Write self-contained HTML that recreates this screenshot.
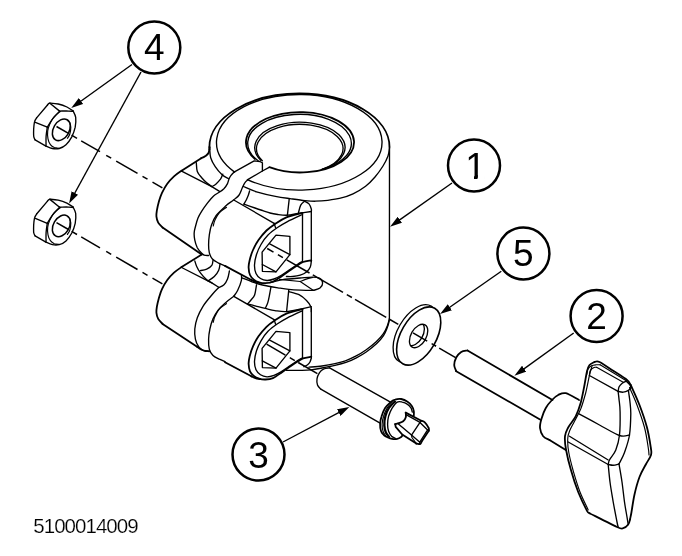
<!DOCTYPE html>
<html>
<head>
<meta charset="utf-8">
<title>5100014009</title>
<style>
html,body{margin:0;padding:0;background:#fff;}
body{width:682px;height:556px;overflow:hidden;font-family:"Liberation Sans",sans-serif;}
svg{display:block;position:absolute;left:0;top:0;will-change:transform;}
.l{fill:none;stroke:#000;stroke-width:1.35;stroke-linecap:round;stroke-linejoin:round;}
.b{fill:none;stroke:#000;stroke-width:1.8;stroke-linecap:round;stroke-linejoin:round;}
.t{fill:none;stroke:#000;stroke-width:1.15;stroke-linecap:round;stroke-linejoin:round;}
.w{fill:#fff;stroke:#000;stroke-width:1.5;stroke-linecap:round;stroke-linejoin:round;}
.c{fill:#fff;stroke:#000;stroke-width:2.5;}
.n{font-family:"Liberation Sans",sans-serif;font-size:37px;fill:#000;text-anchor:middle;}
.a{fill:none;stroke:#000;stroke-width:1.4;}
.cl{fill:none;stroke:#000;stroke-width:1.5;stroke-linecap:butt;}
</style>
</head>
<body>
<svg width="682" height="556" viewBox="0 0 682 556">
<defs>
<marker id="ah" viewBox="0 0 12 7.4" refX="8" refY="3.7" markerWidth="12" markerHeight="7.4" markerUnits="userSpaceOnUse" orient="auto"><path d="M0,0 L12,3.7 L0,7.4 z" fill="#000"/></marker>
<clipPath id="boreclip"><ellipse cx="300" cy="142.3" rx="54" ry="30.2"/></clipPath>
</defs>
<g id="centerlines">
<path class="cl" d="M56.5,126.5 L68.5,133.4"/>
<path class="cl" d="M71.6,135.2 L77,138.4"/>
<path class="cl" d="M81.2,140.8 L100,151.7"/>
<path class="cl" d="M106.2,155.3 L111.2,158.2"/>
<path class="cl" d="M116.2,161.1 L137.5,173.4"/>
<path class="cl" d="M142.5,176.3 L147.5,179.2"/>
<path class="cl" d="M152.5,182.1 L162.4,187.8"/>
<path class="cl" d="M267.2,248.5 L273.5,252.1"/>
<path class="cl" d="M277.9,254.7 L282.9,257.6"/>
<path class="cl" d="M286.7,259.8 L309.5,273"/>
<path class="cl" d="M312.8,274.9 L343,292.4"/>
<path class="cl" d="M346.8,294.6 L351.9,297.5"/>
<path class="cl" d="M355,299.3 L386.2,317.4"/>
<path class="cl" d="M389,319 L398.3,324.4"/>
<path class="cl" d="M413,332.9 L427.2,341.1"/>
<path class="cl" d="M431.6,343.7 L436,346.2"/>
<path class="cl" d="M439.2,348.1 L455.6,357.6"/>
<path class="cl" d="M56.5,222.6 L68.5,229.5"/>
<path class="cl" d="M71.6,231.3 L77,234.5"/>
<path class="cl" d="M81.2,236.9 L100,247.8"/>
<path class="cl" d="M106.2,251.4 L111.2,254.3"/>
<path class="cl" d="M116.2,257.2 L137.5,269.5"/>
<path class="cl" d="M142.5,272.4 L147.5,275.3"/>
<path class="cl" d="M152.5,278.2 L162.4,283.9"/>
<path class="cl" d="M266.6,344.2 L285.4,355.1"/>
<path class="cl" d="M289.8,357.7 L294.8,360.6"/>
<path class="cl" d="M298.2,362.5 L317.4,373.7"/>
</g>
<g id="clamp">
<path class="b" d="M209.4,147 C209.4,132.8 218.9,119.2 235.8,109.2 C252.7,99.1 275.6,93.5 299.4,93.5 C323.3,93.5 346.2,99.1 363.1,109.2 C380,119.2 389.5,132.8 389.5,147"/>
<path class="l" d="M389.5,147 L389.4,318.5"/>
<path class="b" d="M209.4,147 L209.4,149.5"/>
<path class="l" d="M209.7,149 C209.9,150.4 209.8,154.8 210.7,157.7 C211.6,160.6 213.3,163.8 215.2,166.6 C217.1,169.4 219.9,172.7 222.1,174.7 C224.3,176.7 227.3,177.9 228.4,178.5"/>
<path class="l" d="M243.3,186.5 C245.5,187.4 251.2,190.2 256.5,191.8 C261.9,193.4 269.8,195.2 275.4,196.3 C281,197.4 285.1,197.9 290,198.6 C294.9,199.3 300.8,200.2 305,200.6 C309.2,201 311.4,201.2 315.2,201.2 C319,201.1 323.6,200.8 327.8,200.3 C332,199.8 336.2,199.3 340.4,198.2 C344.6,197.1 348.8,195.8 353,193.8 C357.2,191.8 361.9,189 365.6,186.2 C369.3,183.4 372.1,180.4 375,177 C377.9,173.6 380.8,169.5 383,166 C385.2,162.5 386.9,159 388,156 C389.1,153 389.2,149.3 389.5,148"/>
<path class="l" d="M234.6,172.1 C221.4,162.6 215,150.5 216.8,138.3 C218.6,126.1 228.4,114.8 244.1,106.6 C259.9,98.5 280.5,94.2 301.7,94.5 C322.8,94.9 342.9,99.9 357.9,108.6 C372.8,117.2 381.4,128.9 382,141.1 C382.5,153.3 374.9,165.2 360.8,174.3 C346.6,183.3 327,189 305.9,189.9 C284.8,190.9 263.9,187.2 247.4,179.6"/>
<path class="b" d="M255,159 C247.6,152.7 244.6,145.1 246.6,137.7 C248.7,130.3 255.6,123.6 266,118.8 C276.5,114.1 289.7,111.7 303.1,112.1 C316.5,112.6 329.1,115.8 338.5,121.1 C347.9,126.5 353.4,133.6 354,141.1 C354.5,148.6 350,156 341.4,161.7 C332.7,167.5 320.6,171.2 307.3,172.2 C294,173.2 280.5,171.4 269.4,167.2"/>
<g clip-path="url(#boreclip)">
<path class="l" d="M258.1,160.8 C250.7,155.3 247.1,148.5 247.8,141.6 C248.5,134.8 253.5,128.3 262,123.3 C270.4,118.3 281.8,115.2 294,114.5 C306.2,113.7 318.4,115.4 328.6,119.3 C338.7,123.2 346.1,128.9 349.4,135.5 C352.7,142.1 351.7,149.2 346.6,155.4 C341.4,161.7 332.5,166.7 321.4,169.6"/>
<path class="l" d="M260.8,160.2 C254.9,154.3 253.2,147.4 256.3,141 C259.4,134.5 267,128.9 277.4,125.6 C287.7,122.2 300,121.3 311.6,123.1 C323.1,124.8 333,129 339,134.8 C344.9,140.7 346.6,147.6 343.5,154 C340.4,160.5 332.8,166.1 322.4,169.4"/>
<path class="l" d="M262.3,160.8 C256.6,155.2 255,148.5 258,142.3 C260.9,136.1 268.2,130.8 278.1,127.6 C288.1,124.3 299.9,123.5 310.9,125.1 C322,126.8 331.5,130.9 337.2,136.4 C342.9,142 344.5,148.7 341.5,154.9 C338.6,161.1 331.3,166.4 321.4,169.6"/>
</g>
<path class="l" d="M234,172.2 L254.2,160.9 L259.9,161.5 L262.4,162.8 L262.4,171"/>
<path class="l" d="M247.7,179.6 L262.4,171 L269.1,167.4"/>
<path class="b" d="M209.7,147.5 C209.5,148.4 209.2,151.6 208.5,153 C207.8,154.4 206.7,155.1 205.5,156 C204.3,156.9 202,157.9 201.2,158.2"/>
<path class="b" d="M201.2,158.2 L181.6,170.7"/>
<path class="b" d="M181.6,170.7 C180.3,171.6 176.4,174.2 174,176.4 C171.6,178.6 169.1,181.3 167.1,184 C165.1,186.7 163.4,189.9 162,192.8 C160.6,195.7 159.8,198.7 158.9,201.6 C158.1,204.5 157.3,207.9 156.9,210.4 C156.5,212.9 156.2,214.3 156.4,216.3 C156.6,218.3 157.2,220.7 158.2,222.6 C159.2,224.5 161.9,226.8 162.6,227.6"/>
<path class="b" d="M162.6,227.6 L201.7,254.6"/>
<path class="l" d="M181.6,171.2 L211.8,186.6 L219.5,191.3"/>
<path class="l" d="M196.3,162.6 C196.5,164.1 196.4,168.9 197.3,171.4 C198.2,173.9 200.1,175.8 201.7,177.7 C203.3,179.6 205,181.2 206.7,182.7 C208.4,184.2 211,185.9 211.8,186.6"/>
<path class="l" d="M222.8,174.1 C222.4,174.9 221.7,177.5 220.5,179.2 C219.3,180.8 217.2,183 215.8,184.2 C214.3,185.5 212.5,186.2 211.8,186.6"/>
<path class="l" d="M234,172.2 C233.5,172.7 231.8,174.3 231,175.4 C230.2,176.5 229.6,177.6 229,179 C228.4,180.4 228.3,182 227.5,183.6 C226.7,185.2 225.3,187.2 223.9,188.7 C222.5,190.1 221,191.1 219.2,192.3 C217.5,193.5 215.6,194.1 213.6,195.9 C211.6,197.7 209.4,200.5 207.4,203.1 C205.4,205.7 203.2,208.8 201.6,211.3 C200,213.8 199,215.6 198,218 C197,220.4 196.2,223.6 195.6,226 C195,228.4 194.3,230.2 194.2,232.6 C194,234.9 194.3,237.6 194.8,240.1 C195.3,242.6 196.2,245.5 197.3,247.7 C198.5,249.9 200.5,252.1 201.7,253.3 C202.8,254.6 203,254.8 204.2,255.2 C205.3,255.6 207.9,255.4 208.6,255.5"/>
<path class="l" d="M247.9,179.8 C247.4,180.3 245.7,181.5 244.8,182.9 C243.8,184.3 243.1,186 242.2,188 C241.3,190 240.5,193 239.1,195 C237.7,197 235.6,198.2 233.5,200 C231.4,201.8 229.1,202.9 226.2,205.5 C223.4,208.1 218.7,212.2 216.2,215.5 C213.8,218.8 212.7,221.7 211.5,225 C210.3,228.3 209.8,231.8 209.3,235.1 C208.8,238.4 208.6,242.2 208.6,245.1 C208.6,248 208.7,250.4 209.3,252.7 C209.9,255 210.9,257.3 212.4,259 C213.9,260.7 216,261.7 218.1,262.8 C220.2,263.9 223.8,265.4 225,265.9"/>
<path class="t" d="M226.5,207.3 C225.2,208.3 220.8,211.1 218.9,213.3 C217,215.5 215.9,218.2 214.9,220.3 C213.9,222.4 213.5,225.1 213.2,226"/>
<path class="t" d="M226.5,303.6 C225.2,304.6 220.8,307.4 218.9,309.6 C217,311.8 215.9,314.5 214.9,316.6 C213.9,318.7 213.5,321.4 213.2,322.3"/>
<path class="b" d="M302.5,212.8 C299.8,213.6 291,215.4 286.4,217.3 C281.8,219.2 278.3,221.8 275,224 C271.7,226.2 269.2,227.8 266.5,230.5 C263.8,233.2 260.8,236.8 258.5,240 C256.2,243.2 254.5,246.7 253,250 C251.5,253.3 250.4,257.1 249.7,260 C249,262.9 248.5,265 248.6,267.5 C248.7,270 249.1,273 250,275 C250.9,277 252.3,278.4 253.8,279.6 C255.3,280.8 257.1,281.7 259,282.3 C260.9,282.9 263.2,283.3 265.5,283.2 C267.8,283.1 270.2,283 272.9,281.8 C275.6,280.6 278.8,278.2 281.7,276.2 C284.6,274.2 287.8,271.9 290.5,270 C293.2,268.1 295.9,266.3 298,265 C300.1,263.7 300.9,262.8 303.1,262 C305.3,261.2 309.9,260.7 311.3,260.4"/>
<path class="l" d="M302.5,214.5 C299.9,215.7 291.2,219.6 287,221.8 C282.8,224 280.7,225.3 277.5,227.5 C274.3,229.7 270.8,232.2 268,235 C265.2,237.8 262.9,241.2 261,244.5 C259.1,247.8 257.6,251.1 256.5,254.5 C255.4,257.9 254.6,261.8 254.5,265 C254.4,268.2 255,271.2 256,273.5 C257,275.8 258.7,277.3 260.5,278.5 C262.3,279.7 264.8,280.4 267,280.5 C269.2,280.6 271.7,279.8 274,279 C276.3,278.2 278.3,277.1 281,275.5 C283.7,273.9 287.2,271.4 290,269.5 C292.8,267.6 295.9,265.3 298,264 C300.1,262.7 301.8,261.9 302.5,261.5"/>
<path class="l" d="M276,235.1 L289.9,236.3 L289.9,254.6 L276,271.8 L262.4,271.3 L262.1,252.1z"/>
<path class="l" d="M269.7,243.9 L289.9,254.6"/>
<path class="l" d="M262.3,264.5 L276,271.8"/>
<path class="l" d="M274.1,223.3 L275.6,227.9"/>
<path class="l" d="M233.8,200 L274.1,223.3"/>
<path class="b" d="M225,265.9 L251.4,280"/>
<path class="b" d="M251.4,280 C252.1,280.3 254.1,281.3 255.5,281.8 C256.9,282.3 259.2,282.6 260,282.8"/>
<path class="l" d="M302.5,213 L302.5,262"/>
<path class="l" d="M311.3,211.5 L311.3,261.4"/>
<path class="l" d="M249.6,190.9 C249.4,191.6 248.8,193.9 248.3,195.3 C247.8,196.7 247.2,198 246.5,199.5 C245.8,201 244.3,203.3 243.9,204.1"/>
<path class="l" d="M243.9,204.1 C245.8,204.8 251.8,206.9 255,208 C258.1,209.1 260.3,209.8 262.8,210.6 C265.3,211.4 267.5,212.3 270,213 C272.5,213.7 275,214.1 277.9,214.5 C280.8,214.9 284.1,215.4 287.5,215.2 C290.9,215 294.3,214 298.3,213.4 C302.3,212.8 309.1,211.8 311.3,211.5"/>
<path class="l" d="M289.2,199.2 L287.4,215.2"/>
<path class="l" d="M304.6,201.2 C303.9,201.9 301.7,203.4 300.6,205.4 C299.6,207.4 298.7,212.1 298.3,213.4"/>
<path class="l" d="M304.6,201.2 C305.3,201.6 307.9,202.6 309,203.9 C310.1,205.2 310.9,207.7 311.3,209 C311.7,210.3 311.3,211.1 311.3,211.5"/>
<path class="l" d="M311.3,261.4 C311.1,262.3 311.1,265.2 310.3,267 C309.5,268.8 308.2,270.7 306.5,272.1 C304.8,273.5 302.5,274.5 300.2,275.2 C297.9,275.9 295,276.3 292.7,276.5 C290.4,276.7 287.4,276.5 286.4,276.5"/>
<path class="l" d="M270,282.5 C272.1,282 277.6,280.4 282.6,279.6 C287.6,278.9 295,278.4 300,278 C305,277.6 309.5,277 312.8,277.1 C316.1,277.2 318.1,277.4 319.7,278.4 C321.3,279.4 322.6,281.4 322.6,283 C322.7,284.6 321.5,286.8 320,288 C318.5,289.2 314.6,290 313.5,290.4"/>
<path class="l" d="M242,277.9 C243.7,278.5 248.6,280.6 252,281.8 C255.4,283 258.1,284 262.4,285 C266.7,286 273.5,287.1 277.9,287.8 C282.3,288.5 285.1,289 288.9,289.4 C292.7,289.8 296.5,290 300.6,290.2 C304.7,290.4 311.4,290.4 313.5,290.4"/>
<path class="t" d="M300.2,281.5 C301.5,281 305.7,279.3 307.8,278.6 C309.9,277.9 312,277.7 312.8,277.5"/>
<path class="t" d="M300.2,281.5 L313.5,290.4"/>
<path class="t" d="M279.4,279.4 L300.2,281.5"/>
<path class="b" d="M201.7,254.6 L181.6,267"/>
<path class="b" d="M181.6,267 C180.3,267.9 176.4,270.5 174,272.7 C171.6,274.9 169.1,277.6 167.1,280.3 C165.1,283 163.4,286.2 162,289.1 C160.6,292 159.8,295 158.9,297.9 C158.1,300.8 157.3,304.2 156.9,306.7 C156.5,309.1 156.2,310.6 156.4,312.6 C156.6,314.6 157.2,317 158.2,318.9 C159.2,320.8 161.9,323.1 162.6,323.9"/>
<path class="b" d="M162.6,323.9 L196.7,346.6"/>
<path class="b" d="M196.7,346.6 C197.5,347.1 200.2,349.1 201.7,349.8 C203.2,350.5 204.2,350.8 205.5,351 C206.8,351.2 208.7,351.2 209.3,351.3"/>
<path class="l" d="M181.6,267.5 L211.8,282.9 L218.7,287.3"/>
<path class="l" d="M194.8,260.9 C195.1,261.8 195.8,264.5 196.7,266.5 C197.6,268.5 198.7,270.6 200.4,272.8 C202.1,275 204.8,278.1 206.7,279.8 C208.6,281.5 211,282.4 211.8,282.9"/>
<path class="l" d="M213,260.3 C212.8,261.1 212.9,263.8 211.8,265.3 C210.8,266.8 208.6,268.2 206.7,269.1 C204.8,270 201.3,270.4 200.2,270.6"/>
<path class="l" d="M220,264 C219.8,265.1 219.6,268.2 218.7,270.3 C217.8,272.4 216.1,274.8 214.3,276.6 C212.5,278.4 209.1,280.2 208,280.9"/>
<path class="l" d="M218.7,287.6 C217.5,288.8 214.4,291.9 211.8,295 C209.2,298.1 205.4,302.5 203,306.3 C200.6,310.1 198.7,313.9 197.3,317.7 C195.9,321.5 195.1,325.4 194.8,329 C194.5,332.6 194.8,336.2 195.4,339.1 C196,342 197.3,344.7 198.6,346.6 C199.9,348.5 201.2,349.6 203,350.4 C204.8,351.2 208.2,351.1 209.3,351.3"/>
<path class="l" d="M233.8,296.3 C232.3,297.4 227.6,300.9 225,303.2 C222.4,305.5 220.1,307.5 218.1,310.1 C216.1,312.7 214.4,315.8 213,318.9 C211.6,322 210.6,325.6 209.9,329 C209.2,332.4 208.7,335.8 208.6,339.1 C208.5,342.5 208.6,346.4 209.3,349.1 C210,351.8 211.3,353.7 213,355.4 C214.7,357.1 217.3,358.1 219.3,359.2 C221.3,360.2 224.1,361.3 225,361.7"/>
<path class="b" d="M302.5,309.1 C299.8,309.9 291,311.7 286.4,313.6 C281.8,315.5 278.3,318.1 275,320.3 C271.7,322.5 269.2,324.1 266.5,326.8 C263.8,329.5 260.8,333.1 258.5,336.3 C256.2,339.6 254.5,343 253,346.3 C251.5,349.6 250.4,353.4 249.7,356.3 C249,359.2 248.5,361.3 248.6,363.8 C248.7,366.3 249.1,369.3 250,371.3 C250.9,373.3 252.3,374.7 253.8,375.9 C255.3,377.1 257.1,378 259,378.6 C260.9,379.2 263.2,379.6 265.5,379.5 C267.8,379.4 270.2,379.3 272.9,378.1 C275.6,376.9 278.8,374.5 281.7,372.5 C284.6,370.5 287.8,368.2 290.5,366.3 C293.2,364.4 295.9,362.6 298,361.3 C300.1,360 300.9,359.1 303.1,358.3 C305.3,357.5 309.9,357 311.3,356.7"/>
<path class="l" d="M302.5,310.8 C299.9,312 291.2,315.9 287,318.1 C282.8,320.3 280.7,321.6 277.5,323.8 C274.3,326 270.8,328.5 268,331.3 C265.2,334.1 262.9,337.6 261,340.8 C259.1,344.1 257.6,347.4 256.5,350.8 C255.4,354.2 254.6,358.1 254.5,361.3 C254.4,364.5 255,367.6 256,369.8 C257,372.1 258.7,373.6 260.5,374.8 C262.3,376 264.8,376.7 267,376.8 C269.2,376.9 271.7,376.1 274,375.3 C276.3,374.5 278.3,373.4 281,371.8 C283.7,370.2 287.2,367.7 290,365.8 C292.8,363.9 295.9,361.6 298,360.3 C300.1,359 301.8,358.2 302.5,357.8"/>
<path class="l" d="M276,331.4 L289.9,332.6 L289.9,350.9 L276,368.1 L262.4,367.6 L262.1,348.4z"/>
<path class="l" d="M269.7,340.2 L289.9,350.9"/>
<path class="l" d="M262.3,360.8 L276,368.1"/>
<path class="l" d="M274.1,319.6 L275.6,324.2"/>
<path class="l" d="M233.8,296.3 L274.1,319.6"/>
<path class="b" d="M225,362.2 L251.4,376.3"/>
<path class="b" d="M251.4,376.3 C252.1,376.6 254.1,377.6 255.5,378.1 C256.9,378.6 259.2,378.9 260,379.1"/>
<path class="l" d="M302.5,309.3 L302.5,358.3"/>
<path class="l" d="M311.3,307.8 L311.3,357.7"/>
<path class="l" d="M247.7,303.8 C248.9,304.1 252.1,305 255,305.8 C257.9,306.6 262,307.6 265.3,308.4 C268.6,309.2 271.5,310.1 275,310.6 C278.5,311.1 282,311.9 286.4,311.6 C290.8,311.3 297.4,309.6 301.5,308.8 C305.6,308 309.7,307.1 311.3,306.7"/>
<path class="l" d="M256.5,284.8 C256.2,286.5 255.5,292.5 254.6,295 C253.7,297.5 252.2,298.5 251,300 C249.8,301.5 248.2,303.2 247.7,303.8"/>
<path class="l" d="M271,286.7 C270.8,288.1 270,292.4 269.5,295 C269,297.6 268.5,300.4 267.8,302.6 C267.1,304.8 265.7,307.4 265.3,308.4"/>
<path class="l" d="M288.8,289.6 L286.6,311.5"/>
<path class="l" d="M241.4,274.7 C241.4,275.6 242,277.8 241.4,280.4 C240.8,283 238.9,287.9 237.6,290.5 C236.3,293.1 234.4,295.3 233.8,296.3"/>
<path class="l" d="M229.4,271 C229.1,272.4 228.4,276.8 227.5,279.1 C226.6,281.4 225.5,283.4 224,284.8 C222.5,286.2 219.6,287.1 218.7,287.6"/>
<path class="l" d="M288.9,291.6 C290.6,292.1 296.1,293.2 299,294.7 C301.9,296.2 304.5,298.4 306.5,300.4 C308.5,302.4 310.1,304.8 310.9,306.7 C311.7,308.6 311.2,310.9 311.3,311.7"/>
<path class="l" d="M311.4,357.9 C311.2,358.5 310.7,360.5 310.1,361.7 C309.5,362.9 308.6,364 307.6,364.8 C306.6,365.6 304.5,366.4 303.9,366.7"/>
<path class="l" d="M389.4,318.5 C389.1,319.6 388.5,322.9 387.5,325.4 C386.5,327.9 385.3,330.9 383.4,333.6 C381.5,336.3 379.1,339.1 376.2,341.8 C373.3,344.5 369.3,347.6 365.9,350 C362.5,352.4 359.1,354.4 355.7,356.2 C352.3,358 348.8,359.6 345.4,360.8 C341.9,362 338.9,362.7 335,363.6 C331.1,364.5 326.3,365.4 322,366 C317.7,366.6 311.2,367 309,367.2"/>
<path class="l" d="M389.3,320.5 C389,321.7 388.3,325 387.3,327.5 C386.3,330 385.3,332.9 383.5,335.6 C381.7,338.3 379.5,340.9 376.7,343.6 C373.9,346.3 370,349.3 366.6,351.7 C363.2,354.1 359.8,356 356.4,357.8 C353,359.6 349.6,361.1 346,362.4 C342.4,363.6 339,364.4 335,365.3 C331,366.2 326,367.2 322,368 C318,368.8 314.7,369.5 311,369.9 C307.3,370.3 304.1,370.3 300,370.4 C295.9,370.5 288.7,370.4 286.4,370.4"/>
</g>
<g id="nuts">
<g>
<path class="l" d="M49.9,103.1 C49.7,103.2 49.1,103.3 48.7,103.6 C48.3,104 47.7,104.8 47.5,105"/>
<path class="l" d="M47.5,105 L36.6,117.9"/>
<path class="l" d="M36.6,117.9 C36.3,118.5 35.1,119.9 34.7,121.3 C34.2,122.7 34.1,124.4 33.9,126.2 C33.7,128 33.6,130.2 33.6,132 C33.6,133.8 33.5,135.6 33.8,136.9 C34,138.2 34.8,139.3 35.1,139.8"/>
<path class="l" d="M35.1,139.8 L45.5,145.8"/>
<path class="l" d="M45.5,145.8 C46.7,146.3 50.1,148.1 52.4,148.5 C54.6,149 56.9,149.1 59.2,148.5 C61.4,147.9 63.9,146.8 66,144.8 C68.1,142.9 70.2,139.8 71.8,136.9 C73.3,133.9 74.5,130.4 75.2,127.2 C75.8,123.9 76,120.2 75.7,117.4 C75.3,114.7 73.4,111.9 73,110.8"/>
<path class="l" d="M73,110.8 C72,110.2 69.4,108.2 66.9,107 C64.5,105.9 61,104.7 58.2,104 C55.3,103.4 51.3,103.2 49.9,103.1"/>
<path class="l" d="M49.9,103.3 L59.6,111.1"/>
<path class="l" d="M59.6,111.1 C60.8,111.1 64.2,110.8 66.4,110.8 C68.7,110.9 72.1,111.3 73.2,111.4"/>
<path class="l" d="M59.6,111.1 C58.5,112.4 54.9,115.9 52.8,118.6 C50.8,121.3 48.2,125.7 47.3,127.2"/>
<path class="l" d="M34.7,122.1 L47.3,127.2"/>
<path class="l" d="M47.3,127.2 C47.1,128.7 46.3,133.3 46.1,136.4 C45.9,139.5 46.1,144.2 46,145.8"/>
<path class="t" d="M60.3,111.6 C59.3,112.4 56.1,114.4 54.3,116.5 C52.5,118.6 50.8,121.8 49.7,124.2 C48.6,126.7 48,128.6 47.7,131 C47.4,133.5 47.5,136.5 48,138.8 C48.4,141.1 49.4,143.2 50.4,144.6 C51.5,146.1 52.8,146.9 54.3,147.6 C55.8,148.2 58.3,148.2 59.2,148.3"/>
<ellipse class="l" style="stroke-width:1.5" cx="61.3" cy="129.8" rx="7.9" ry="11.6" transform="rotate(30 61.3 129.8)"/>
<path class="t" d="M69.7,122.3 C69.8,123.1 70.8,125.2 70.8,127.2 C70.8,129.1 70.4,132.1 69.8,134 C69.3,135.8 67.8,137.6 67.4,138.3"/>
</g>
<g>
<path class="l" d="M49.9,199.2 C49.7,199.3 49.1,199.4 48.7,199.7 C48.3,200.1 47.7,200.9 47.5,201.1"/>
<path class="l" d="M47.5,201.1 L36.6,214"/>
<path class="l" d="M36.6,214 C36.3,214.6 35.1,216 34.7,217.4 C34.2,218.8 34.1,220.5 33.9,222.3 C33.7,224.1 33.6,226.3 33.6,228.1 C33.6,229.9 33.5,231.7 33.8,233 C34,234.3 34.8,235.4 35.1,235.9"/>
<path class="l" d="M35.1,235.9 L45.5,241.9"/>
<path class="l" d="M45.5,241.9 C46.7,242.4 50.1,244.2 52.4,244.6 C54.6,245.1 56.9,245.2 59.2,244.6 C61.4,244 63.9,242.9 66,240.9 C68.1,239 70.2,235.9 71.8,233 C73.3,230 74.5,226.5 75.2,223.3 C75.8,220 76,216.3 75.7,213.5 C75.3,210.8 73.4,208 73,206.9"/>
<path class="l" d="M73,206.9 C72,206.3 69.4,204.3 66.9,203.1 C64.5,202 61,200.8 58.2,200.1 C55.3,199.5 51.3,199.3 49.9,199.2"/>
<path class="l" d="M49.9,199.4 L59.6,207.2"/>
<path class="l" d="M59.6,207.2 C60.8,207.2 64.2,206.9 66.4,206.9 C68.7,207 72.1,207.4 73.2,207.5"/>
<path class="l" d="M59.6,207.2 C58.5,208.5 54.9,212 52.8,214.7 C50.8,217.4 48.2,221.8 47.3,223.3"/>
<path class="l" d="M34.7,218.2 L47.3,223.3"/>
<path class="l" d="M47.3,223.3 C47.1,224.8 46.3,229.4 46.1,232.5 C45.9,235.6 46.1,240.3 46,241.9"/>
<path class="t" d="M60.3,207.7 C59.3,208.5 56.1,210.5 54.3,212.6 C52.5,214.7 50.8,217.9 49.7,220.3 C48.6,222.8 48,224.7 47.7,227.1 C47.4,229.6 47.5,232.6 48,234.9 C48.4,237.2 49.4,239.3 50.4,240.7 C51.5,242.2 52.8,243 54.3,243.7 C55.8,244.3 58.3,244.3 59.2,244.4"/>
<ellipse class="l" style="stroke-width:1.5" cx="61.3" cy="225.9" rx="7.9" ry="11.6" transform="rotate(30 61.3 225.9)"/>
<path class="t" d="M69.7,218.4 C69.8,219.2 70.8,221.3 70.8,223.3 C70.8,225.2 70.4,228.2 69.8,230.1 C69.3,231.9 67.8,233.7 67.4,234.4"/>
</g>
</g>
<g id="washer">
<ellipse class="l" style="fill:#fff" cx="415.2" cy="333.8" rx="17.6" ry="32" transform="rotate(30 415.2 333.8)"/>
<ellipse class="w" style="stroke-width:1.6" cx="418.7" cy="336" rx="17.6" ry="32" transform="rotate(30 418.7 336)"/>
<ellipse class="l" cx="418.6" cy="336" rx="7.6" ry="12.8" transform="rotate(30 418.6 336)"/>
<clipPath id="wh"><ellipse cx="418.6" cy="336" rx="7.6" ry="12.8" transform="rotate(30 418.6 336)"/></clipPath>
<g clip-path="url(#wh)"><ellipse class="l" cx="415.2" cy="334" rx="7.6" ry="12.8" transform="rotate(30 415.2 334)"/></g>
<path class="cl" d="M413,332.9 L427.2,341.1"/>
<path class="cl" d="M431.6,343.7 L436,346.2"/>
</g>
<g id="bolt3">
<path class="l" d="M329.6,367.9 L390.5,402.2"/>
<path class="l" d="M320.8,389.1 L380.1,423.1"/>
<path class="l" d="M329.6,367.9 C328.7,368.1 325.6,368.1 323.9,368.9 C322.2,369.7 320.6,370.9 319.5,372.6 C318.4,374.3 317.3,376.8 317,378.9 C316.7,381 316.9,383.3 317.5,385 C318.1,386.7 320.2,388.4 320.8,389.1"/>
<path class="b" d="M413.8,415.7 C413.8,414.9 414.1,412.7 413.8,411.1 C413.5,409.5 412.9,407.7 411.8,406.1 C410.7,404.5 409,402.7 407.2,401.6 C405.5,400.4 403.2,399.4 401.2,399 C399.2,398.7 396.9,399 395.2,399.6 C393.4,400.1 392.3,400.6 390.6,402.1 C389,403.5 386.6,405.8 385.1,408.1 C383.6,410.5 382.4,413.5 381.6,416.2 C380.7,418.9 380.1,421.7 380.1,424.2 C380,426.7 380.4,429.4 381.1,431.3 C381.7,433.1 383.1,434.3 384.1,435.3 C385.1,436.3 385.8,436.4 387.1,437 C388.4,437.6 390.5,438.6 392.1,438.9 C393.8,439.2 395.7,439.2 397.2,438.9 C398.7,438.6 400.3,437.6 401.2,437 C402.1,436.4 402.2,435.6 402.4,435.3"/>
<path class="t" d="M392.1,402.1 C391.3,403.1 388.5,405.8 387.1,408.1 C385.7,410.5 384.4,413.5 383.6,416.2 C382.7,418.9 382.2,421.7 382.1,424.2 C382,426.7 382.5,429.4 383.1,431.3 C383.7,433.2 385.2,434.8 385.6,435.5"/>
<path class="b" d="M395.2,401.6 C394.2,402.7 390.7,405.7 389.1,408.1 C387.5,410.5 386.4,413.3 385.6,416.2 C384.8,419 384.5,422.5 384.6,425.2 C384.7,427.9 385.3,430.4 386.1,432.3 C386.9,434.2 388.6,435.8 389.1,436.5"/>
<path class="l" d="M394.4,401.3 C393.4,402.4 390,405.6 388.4,408.1 C386.8,410.6 385.6,413.3 384.9,416.2 C384.1,419 383.8,422.5 383.9,425.2 C384,427.9 384.6,430.4 385.3,432.3 C386,434.1 387.6,435.6 388.1,436.3"/>
<path class="l" d="M412.3,412.1 C412.1,411.5 411.9,409.5 411.1,408.1 C410.2,406.8 408.7,405.1 407.2,404.1 C405.8,403.1 403.9,402.4 402.2,402.1 C400.5,401.7 398.9,401.1 397.2,402.1 C395.5,403.1 393.6,405.8 392.1,408.1 C390.7,410.5 389.4,413.5 388.6,416.2 C387.9,418.9 387.6,421.7 387.6,424.2 C387.6,426.7 387.9,429.3 388.6,431.3 C389.3,433.3 390.5,435.1 391.6,436.3 C392.8,437.5 394.7,438 395.4,438.3"/>
<path class="b" d="M405.7,412.6 C405.8,413.4 406.3,415.7 405.8,417.2 C405.4,418.6 404.5,420.2 403.2,421.2 C402,422.2 399.7,422.7 398.4,423.2 C397,423.7 395.7,424.1 395.2,424.2"/>
<path class="b" d="M405.7,412.6 L421.3,420.7"/>
<path class="b" d="M421.3,420.7 C421.9,421 423.6,421.2 424.8,422.4 C426,423.6 427.9,426.4 428.6,427.8 C429.3,429.1 428.8,430.3 428.8,430.8"/>
<path class="b" d="M428.8,430.8 L421.5,441.7"/>
<path class="b" d="M421.5,441.7 C421.4,442.1 421,443.4 420.5,443.8 C420.1,444.2 419.6,444.2 418.9,444.2 C418.2,444.1 416.7,443.7 416.3,443.6"/>
<path class="b" d="M416.3,443.6 L402.2,434.5 L395.7,426.9 L395.2,424.2"/>
<path class="l" d="M420,422.4 L427.6,429.9 L419.8,442.2 L411.5,435.1z"/>
<path class="l" d="M406.5,414.8 L420,422.4"/>
<path class="l" d="M398.4,424 L411.5,435.1"/>
<path class="t" d="M427.6,429.9 L428.7,429.3"/>
<path class="t" d="M419.8,442.2 L419.5,444"/>
<path class="t" d="M411.5,435.1 L411.9,437.5 L416.3,443.6"/>
<path class="t" d="M421.3,420.7 L420,422.4"/>
</g>
<g id="tbolt">
<path class="b" d="M467.5,350.5 L552.5,400"/>
<path class="b" d="M456.2,371.2 L540,419.5"/>
<path class="b" d="M467.5,350.5 C466.5,350.8 463.1,350.8 461.2,352 C459.4,353.2 457.4,355.3 456.2,357.5 C455.1,359.7 454.2,362.7 454.2,365 C454.2,367.3 455.9,370.2 456.2,371.2"/>
<path class="b" d="M579,400 C576.8,398.9 569.2,394.1 565.8,393.2 C562.3,392.4 560.5,393.9 558.2,395 C556,396.1 554.1,397.8 552,400 C549.9,402.2 547.5,404.9 545.8,408 C544,411.1 542.5,415.4 541.5,418.8 C540.5,422.1 539.7,425.1 540,428 C540.3,430.9 541.7,434.2 543.2,436.2 C544.8,438.2 548.5,439.4 549.5,440"/>
<path class="b" d="M549.5,440 L565.8,450"/>
<path class="b" d="M594.5,362 C593.7,362.5 590.8,363.5 589.5,365 C588.2,366.5 587.8,367.9 587,371.2 C586.2,374.6 585.5,379.8 584.5,385 C583.5,390.2 582.2,397.3 580.8,402.5 C579.3,407.7 577.8,412.1 575.8,416.2 C573.7,420.4 570,424.2 568.2,427.5 C566.5,430.8 565.4,432.6 565,436.2 C564.6,439.9 565,444 566,449.5 C567,455 568.7,462.4 570.8,469.5 C572.8,476.6 575.5,485.1 578.2,492 C581,498.9 585.1,507.2 587,510.8 C588.9,514.3 589.1,512.8 589.5,513.2"/>
<path class="b" d="M589.5,513.2 C594.1,515.5 611.4,524.5 617,527 C622.6,529.5 621.4,528.7 623.2,528.2 C625.1,527.8 627.1,526 628.2,524.5 C629.4,523 629.7,520.3 630,519.5"/>
<path class="b" d="M630.8,385 C632.2,388.3 636.8,397.9 639.5,405 C642.2,412.1 645.1,420.4 647,427.5 C648.9,434.6 650.1,442.9 650.8,447.5 C651.4,452.1 651.8,452.2 651,455 C650.2,457.8 647.7,460.8 645.8,464.5 C643.8,468.2 641.4,472 639.5,477 C637.6,482 635.8,488.7 634.5,494.5 C633.2,500.3 632.2,507.8 631.5,512 C630.8,516.2 630.2,518.2 630,519.5"/>
<path class="b" d="M594.5,362 C595.3,362 596.4,360.5 599.5,362 C602.6,363.5 608.7,367.8 613.2,370.8 C617.8,373.8 624.1,377.6 627,380 C629.9,382.4 630.1,384.2 630.8,385"/>
<path class="t" d="M592,366.2 C591.6,367.7 590.5,370.6 589.5,375 C588.5,379.4 587.2,386.9 585.8,392.5 C584.3,398.1 582.6,404 580.8,408.8 C578.9,413.5 576.3,417.7 574.5,421.2 C572.7,424.8 571.1,427.2 570,430 C568.9,432.8 568,434.2 567.8,438 C567.5,441.8 567.8,447 568.8,452.5 C569.7,458 571.4,464.2 573.2,470.8 C575.1,477.3 577.5,485.5 580,492 C582.5,498.5 586.9,507 588.2,510"/>
<path class="t" d="M629.5,387.5 C630.8,390.4 634.5,398.3 637,405 C639.5,411.7 642.6,420.4 644.5,427.5 C646.4,434.6 647.5,442.9 648.2,447.5 C649,452.1 648.9,453.8 649,455"/>
<path class="t" d="M586.8,374.5 C587,373.6 587.1,370.8 587.8,369.4 C588.6,367.9 590.1,366.5 591.4,365.8 C592.8,365 594.6,364.9 596,364.8 C597.5,364.6 599.5,364.8 600.1,364.8"/>
<path class="t" d="M600.1,364.8 L626.3,380.7"/>
<path class="t" d="M589.4,375.5 C589.5,374.7 589.6,371.7 590.4,370.4 C591.2,369.1 593,368 594,367.5 C595,367 596.1,367.4 596.6,367.3"/>
<path class="t" d="M596.6,367.3 L623.2,382.2"/>
<path class="l" d="M589.4,375.5 L618.1,391.4"/>
<path class="l" d="M618.1,391.4 C618.3,390.7 618.4,388.2 619.1,386.8 C619.8,385.4 621,384.2 622.2,383.2 C623.4,382.3 625.6,381.5 626.3,381.2"/>
<path class="l" d="M626.3,381.2 C626.9,381.8 629.1,383.7 629.9,384.8 C630.7,385.9 630.8,387.3 630.9,387.8"/>
<path class="l" d="M618.1,391.4 C619,391.6 621.5,392.3 623.2,392.2 C625,392 627.1,391.1 628.4,390.4 C629.7,389.7 630.5,388.3 630.9,387.8"/>
<path class="l" d="M618.1,391.4 C618.3,392.9 618.8,396.7 619.1,400.1 C619.5,403.6 620.1,406.2 620.1,412 C620.2,417.8 620.2,428.7 619.5,435 C618.8,441.3 617.4,445.8 615.8,450 C614.1,454.2 610.8,457.6 609.5,460 C608.2,462.4 608.5,463.8 608.2,464.5"/>
<path class="l" d="M628.4,390.4 C628.6,392.2 629.5,397.4 629.9,401.2 C630.3,405.1 630.8,408.1 630.8,413.8 C630.7,419.4 630.5,428.5 629.5,435 C628.5,441.5 626.2,447.7 624.5,452.5 C622.8,457.3 619.9,462.1 619,464"/>
<path class="l" d="M579,413.8 C582.4,415.6 592.8,421.4 599.5,425 C606.2,428.6 614.5,433.8 619.5,435.5 C624.5,437.2 627.8,435.1 629.5,435"/>
<path class="l" d="M569.5,436.2 L608.2,460"/>
<path class="l" d="M568.2,442 L608.2,464.5"/>
<path class="l" d="M608.2,464.5 C609.1,464.6 611.5,465.3 613.2,465.2 C615,465.2 618,464.2 619,464"/>
<path class="l" d="M608.2,464.5 C608.5,467.4 609.2,475.8 610,482 C610.8,488.2 612.1,495.3 613.2,502 C614.4,508.7 616.2,517.8 617,522 C617.8,526.2 618,526.2 618.2,527"/>
<path class="l" d="M619,464 C619.5,467 621.1,475.7 622,482 C622.9,488.3 623.7,496.2 624.5,502 C625.3,507.8 626.4,513.2 627,517 C627.6,520.8 628,523.2 628.2,524.5"/>
</g>
<g id="callouts">
<path class="a" d="M132,64.5 L74.5,105.7" marker-end="url(#ah)"/>
<path class="a" d="M141,72 L71.0,200.0" marker-end="url(#ah)"/>
<path class="a" d="M452,183 L393.3,224.4" marker-end="url(#ah)"/>
<path class="a" d="M501.3,271.3 L443.3,311.8" marker-end="url(#ah)"/>
<path class="a" d="M573.7,333 L517.7,373.4" marker-end="url(#ah)"/>
<path class="a" d="M283,442 L345.8,408.9" marker-end="url(#ah)"/>
<circle class="c" cx="154.3" cy="47.5" r="26"/>
<text class="n" x="154.3" y="60.4">4</text>
<circle class="c" cx="474" cy="165.6" r="26"/>
<text class="n" x="475.5" y="178.5">1</text>
<rect x="467" y="175.0" width="7.0" height="4.4" fill="#fff"/><rect x="477.5" y="175.0" width="7" height="4.4" fill="#fff"/>
<rect x="474.95" y="175" width="2.95" height="2.8" fill="#000"/>
<circle class="c" cx="523.4" cy="253.4" r="26"/>
<text class="n" x="523.4" y="266.3">5</text>
<circle class="c" cx="596.6" cy="315.9" r="26"/>
<text class="n" x="596.6" y="328.79999999999995">2</text>
<circle class="c" cx="258.5" cy="454.6" r="26"/>
<text class="n" x="258.5" y="467.5">3</text>
</g>
<text x="33.3" y="532.6" style="font-family:'Liberation Sans',sans-serif;font-size:20.5px;letter-spacing:-0.97px;fill:#000;stroke:#fff;stroke-width:0.2px">5100014009</text>
</svg>
</body>
</html>
